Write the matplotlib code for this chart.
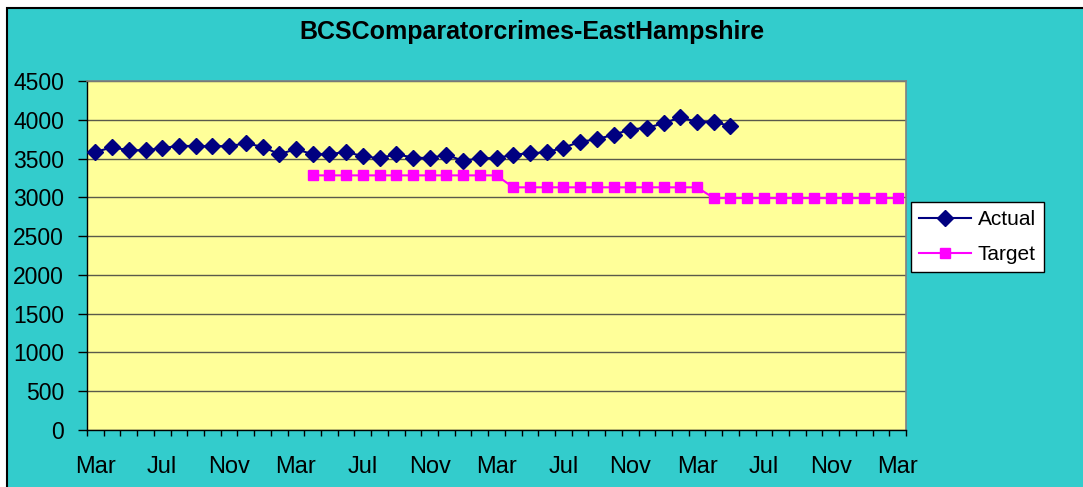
import matplotlib
matplotlib.use("Agg")
import matplotlib.pyplot as plt
from matplotlib.patches import Rectangle
import numpy as np

plt.rcParams["font.family"] = ["Liberation Sans", "DejaVu Sans"]

TITLE = "BCSComparatorcrimes-EastHampshire"

# 49 monthly periods, Mar (year 1) .. Mar (year 5); labelled every 4th month
n_periods = 49
tick_labels = ["Mar", "Jul", "Nov", "Mar", "Jul", "Nov", "Mar",
               "Jul", "Nov", "Mar", "Jul", "Nov", "Mar"]

actual = [3586, 3644, 3608, 3608, 3634, 3665, 3660, 3660, 3660, 3696,
          3652, 3556, 3621, 3556, 3556, 3586, 3530, 3504, 3556, 3513,
          3505, 3550, 3470, 3505, 3505, 3550, 3568, 3581, 3640, 3716,
          3749, 3807, 3874, 3897, 3955, 4032, 3973, 3973, 3919]

target = [None] * 13 + [3283] * 12 + [3129] * 12 + [2990] * 12

TEAL = "#33CCCC"
YELLOW = "#FFFF99"

W, H = 1083, 487
fig = plt.figure(figsize=(W / 100, H / 100), dpi=100, facecolor="white")

# chart area background with the black border on the top/left
fig.patches.append(Rectangle((7 / W, -0.1), 1.2, 1.1 - 8 / H, transform=fig.transFigure,
                             facecolor=TEAL, edgecolor="black", linewidth=1.5, zorder=-5))

ax = fig.add_axes([87 / W, (H - 430) / H, (906 - 87) / W, (430 - 81) / H])
ax.set_zorder(1)
ax.set_facecolor(YELLOW)

x_act = np.arange(len(actual))
x_tgt = np.arange(len(target))
y_tgt = np.array([np.nan if v is None else v for v in target], dtype=float)

ax.plot(x_act, actual, color="#000080", lw=1.5, marker="D", ms=8.5,
        mec="#000080", mfc="#000080", label="Actual", zorder=3)
ax.plot(x_tgt, y_tgt, color="#FF00FF", lw=1.5, marker="s", ms=7.5,
        mec="#FF00FF", mfc="#FF00FF", label="Target", zorder=3)

ax.set_xlim(-0.5, n_periods - 0.5)
ax.set_ylim(0, 4500)
ax.set_yticks(np.arange(0, 4501, 500))
ax.yaxis.grid(True, color="#5a5a4a", lw=1.0)
ax.set_axisbelow(True)

ax.set_xticks(np.arange(0, n_periods, 4))
ax.set_xticklabels(tick_labels)
ax.set_xticks(np.arange(-0.5, n_periods, 1), minor=True)
ax.tick_params(axis="x", which="major", length=0, pad=19, labelsize=17)
ax.tick_params(axis="x", which="minor", length=4.5, width=1, color="black")
ax.tick_params(axis="y", length=6.5, width=1, pad=10, labelsize=16.5)

for side in ("top", "right"):
    ax.spines[side].set_color("#808080")
    ax.spines[side].set_linewidth(1.2)
for side in ("left", "bottom"):
    ax.spines[side].set_color("black")
    ax.spines[side].set_linewidth(1.0)

fig.text(532 / W, 1 - 32 / H, TITLE, ha="center", va="center",
         fontsize=18, fontweight="bold", zorder=2)

leg = fig.legend(loc="upper left", bbox_to_anchor=(911 / W, 1 - 202 / H),
                 borderaxespad=0, fontsize=15, fancybox=False, framealpha=1,
                 edgecolor="black", handlelength=2.5, handletextpad=0.3,
                 labelspacing=0.75, borderpad=0.4)
leg.set_zorder(2)
leg.get_frame().set_linewidth(1.0)

fig.savefig("out.png", dpi=100, facecolor="white")
